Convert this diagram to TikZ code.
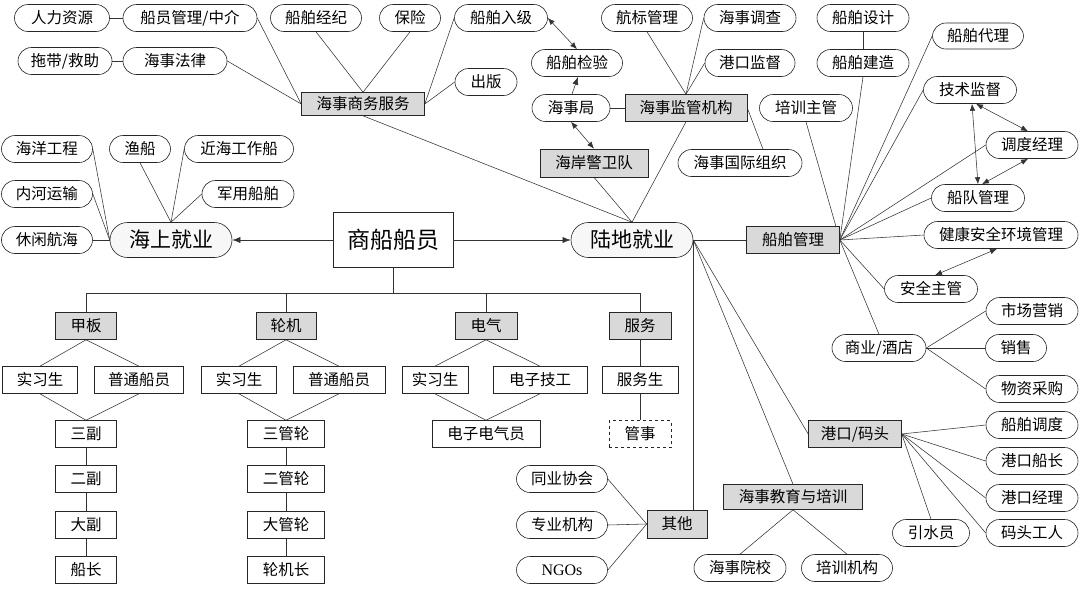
\documentclass[tikz,border=0pt]{standalone}
\usepackage{fontspec}
\setmainfont{Noto Sans CJK SC}
\newfontfamily\latinserif{Liberation Serif}
\usetikzlibrary{arrows.meta}
\pgfdeclarelayer{bg}
\pgfsetlayers{bg,main}
\begin{document}
\begin{tikzpicture}[x=1pt,y=-1pt,
  base/.style={font=\fontsize{15.5}{16}\selectfont, inner sep=0pt, minimum height=27pt, line width=0.6pt, draw=black!85},
  pill/.style={base, rounded corners=13.5pt, fill=white},
  gbox/.style={base, fill=gray!30},
  wbox/.style={base, fill=white},
  big/.style={draw=black!85, line width=0.6pt, rounded corners=17.5pt, minimum height=35pt, minimum width=122pt, fill=gray!6, font=\fontsize{21}{22}\selectfont, inner sep=0pt},
  edge/.style={line width=0.55pt, draw=black!80},
  sgl/.style={edge, -{Latex[length=8pt,width=6pt]}},
  dbl/.style={edge, {Latex[length=7pt,width=5.5pt]}-{Latex[length=7pt,width=5.5pt]}}
]
\useasboundingbox (0,0) rectangle (1080,590);

% ---- top left: maritime commercial services
\node[pill, minimum width=95pt] (hr) at (62,18) {人力资源};
\node[pill, minimum width=134pt] (crew) at (190,18) {船员管理/中介};
\node[pill, minimum width=91pt] (broker) at (316,18) {船舶经纪};
\node[pill, minimum width=61pt] (ins) at (410,18) {保险};
\node[pill, minimum width=93pt] (class) at (501,18) {船舶入级};
\node[pill, minimum width=62pt] (pub) at (486,82) {出版};
\node[pill, minimum width=94pt] (tow) at (65,61) {拖带/救助};
\node[pill, minimum width=104pt] (law) at (175,61) {海事法律};
\node[gbox, minimum width=123pt, minimum height=23pt] (comm) at (363,104) {海事商务服务};

% ---- top middle: regulators
\node[pill, minimum width=91pt] (aids) at (647,18) {航标管理};
\node[pill, minimum width=92pt] (inv) at (750,18) {海事调查};
\node[pill, minimum width=91pt] (survey) at (577,63) {船舶检验};
\node[pill, minimum width=90pt] (psc) at (750,63) {港口监督};
\node[pill, minimum width=78pt] (msa) at (571,108) {海事局};
\node[gbox, minimum width=122pt] (reg) at (686,108) {海事监管机构};
\node[gbox, minimum width=108pt, minimum height=28pt] (cg) at (594,163) {海岸警卫队};
\node[pill, minimum width=124pt] (imo) at (740,163) {海事国际组织};

% ---- top right: ship management
\node[pill, minimum width=93pt] (trainmgr) at (806,108) {培训主管};
\node[pill, minimum width=92pt] (design) at (863,18) {船舶设计};
\node[pill, minimum width=92pt] (build) at (863,63) {船舶建造};
\node[pill, minimum width=91pt, minimum height=26pt] (agent) at (978,36) {船舶代理};
\node[pill, minimum width=93pt] (tech) at (970,90) {技术监督};
\node[pill, minimum width=92pt] (disp) at (1032,145) {调度经理};
\node[pill, minimum width=93pt] (fleet) at (978,198) {船队管理};
\node[pill, minimum width=154pt] (hse) at (1001,235) {健康安全环境管理};
\node[pill, minimum width=93pt] (safety) at (931,289) {安全主管};
\node[gbox, minimum width=93pt] (shipmgmt) at (793,240) {船舶管理};

\node[pill, minimum width=92pt] (mkt) at (1032,311) {市场营销};
\node[pill, minimum width=61pt] (sales) at (1016,348) {销售};
\node[pill, minimum width=92pt] (purch) at (1032,389) {物资采购};
\node[pill, minimum width=94pt] (hotel) at (879,348) {商业/酒店};

\node[gbox, minimum width=93pt] (port) at (855,434) {港口/码头};
\node[pill, minimum width=92pt] (sched) at (1032,425) {船舶调度};
\node[pill, minimum width=92pt] (pcapt) at (1032,461) {港口船长};
\node[pill, minimum width=92pt] (pmgr) at (1032,498) {港口经理};
\node[pill, minimum width=92pt] (dock) at (1032,533) {码头工人};
\node[pill, minimum width=77pt] (pilot) at (931,533) {引水员};

\node[gbox, minimum width=139pt, minimum height=25pt] (edu) at (793,497) {海事教育与培训};
\node[pill, minimum width=92pt] (college) at (740,568) {海事院校};
\node[pill, minimum width=91pt] (tinst) at (847,568) {培训机构};

\node[gbox, minimum width=60pt, minimum height=28pt] (other) at (677,524) {其他};
\node[pill, minimum width=91pt] (assoc) at (562,479) {同业协会};
\node[pill, minimum width=91pt] (prof) at (562,525) {专业机构};
\node[pill, minimum width=91pt, font=\latinserif\fontsize{16}{16}\selectfont] (ngo) at (562,570) {NGOs};

% ---- left: sea employment
\node[pill, minimum width=91pt] (offeng) at (47,149) {海洋工程};
\node[pill, minimum width=61pt] (fish) at (140,149) {渔船};
\node[pill, minimum width=109pt] (offsup) at (239,149) {近海工作船};
\node[pill, minimum width=91pt] (inland) at (47,194) {内河运输};
\node[pill, minimum width=92pt] (navy) at (248,194) {军用船舶};
\node[pill, minimum width=91pt] (leisure) at (47,240) {休闲航海};
\node[big] (sea) at (171,240) {海上就业};
\node[draw=black!85, line width=0.6pt, fill=white, minimum width=120pt, minimum height=55pt, inner sep=0pt, font=\fontsize{23}{24}\selectfont] (main) at (393,240) {商船船员};
\node[big] (land) at (632,240) {陆地就业};

% ---- bottom: shipboard ranks
\node[gbox, minimum width=61pt] (deck) at (86,326) {甲板};
\node[gbox, minimum width=60pt] (eng) at (286,326) {轮机};
\node[gbox, minimum width=62pt] (elec) at (486,326) {电气};
\node[gbox, minimum width=62pt] (serv) at (640,326) {服务};
\node[wbox, minimum width=75pt] (dcadet) at (40,380) {实习生};
\node[wbox, minimum width=89pt] (drate) at (139,380) {普通船员};
\node[wbox, minimum width=75pt] (ecadet) at (239,380) {实习生};
\node[wbox, minimum width=92pt] (erate) at (339,380) {普通船员};
\node[wbox, minimum width=66pt] (elcadet) at (435,380) {实习生};
\node[wbox, minimum width=94pt] (eltech) at (540,380) {电子技工};
\node[wbox, minimum width=76pt] (steward) at (640,380) {服务生};
\node[wbox, minimum width=61pt] (o3) at (86,434) {三副};
\node[wbox, minimum width=61pt] (o2) at (86,479) {二副};
\node[wbox, minimum width=61pt] (o1) at (86,525) {大副};
\node[wbox, minimum width=61pt] (capt) at (86,570) {船长};
\node[wbox, minimum width=77pt] (e3) at (286,434) {三管轮};
\node[wbox, minimum width=77pt] (e2) at (286,479) {二管轮};
\node[wbox, minimum width=77pt] (e1) at (286,525) {大管轮};
\node[wbox, minimum width=77pt] (ce) at (286,570) {轮机长};
\node[wbox, minimum width=108pt] (eto) at (486,434) {电子电气员};
\node[wbox, minimum width=62pt, dashed] (purser) at (640,434) {管事};

\coordinate (bus) at (393,293);

\begin{pgfonlayer}{bg}
\fill[white] (0,0) rectangle (1080,590);
% commercial services
\draw[edge] (hr) -- (crew);
\draw[edge] (tow) -- (law);
\draw[edge] (crew.east) -- (comm.west);
\draw[edge] (law.east) -- (comm.west);
\draw[edge] (broker.south) -- (comm.north);
\draw[edge] (ins.south) -- (comm.north);
\draw[edge] (class.west) -- (comm.east);
\draw[edge] (pub.west) -- (comm.east);
\draw[edge] (comm.south) -- (land.north);
% regulators
\draw[edge] (aids.south) -- (reg.north);
\draw[edge] (inv.west) -- (reg.north);
\draw[edge] (psc.west) -- (reg.north);
\draw[edge] (msa.east) -- (reg.west);
\draw[edge] (reg.east) -- ([xshift=23pt]imo.north);
\draw[edge] (reg.south) -- (land.north);
\draw[edge] (cg.south) -- (land.north);
% land employment
\draw[edge] (land.east) -- (shipmgmt.west);
\draw[edge] (land.east) -- (land.east |- other.north);
\draw[edge] (land.east) -- (edu.north);
\draw[edge] (land.east) -- (port.west);
% ship management
\draw[edge] (design.south) -- (build.north);
\foreach \t in {trainmgr.south, build.south, agent.west, tech.west, disp.west, fleet.west, hse.west, safety.west, hotel.north}
  \draw[edge] (shipmgmt.east) -- (\t);
\foreach \t in {mkt, sales, purch}
  \draw[edge] (hotel.east) -- (\t.west);
\foreach \t in {sched.west, pcapt.west, pmgr.west, dock.west, pilot.north}
  \draw[edge] (port.east) -- (\t);
\draw[edge] (edu.south) -- (college.north);
\draw[edge] (edu.south) -- (tinst.north);
\foreach \t in {assoc, prof, ngo}
  \draw[edge] (other.west) -- (\t.east);
% sea employment
\draw[edge] (offeng.east) -- (sea.west);
\draw[edge] (inland.east) -- (sea.west);
\draw[edge] (leisure.east) -- (sea.west);
\draw[edge] (fish.south) -- (sea.north);
\draw[edge] (offsup.west) -- (sea.north);
\draw[edge] (navy.west) -- (sea.north);
% ranks
\draw[edge] (main.south) -- (bus);
\draw[edge] (deck.north |- bus) -- (serv.north |- bus);
\foreach \t in {deck, eng, elec, serv}
  \draw[edge] (\t.north |- bus) -- (\t.north);
\draw[edge] (deck.south) -- (dcadet.north);
\draw[edge] (deck.south) -- (drate.north);
\draw[edge] (dcadet.south) -- (o3.north);
\draw[edge] (drate.south) -- (o3.north);
\draw[edge] (o3) -- (o2) -- (o1) -- (capt);
\draw[edge] (eng.south) -- (ecadet.north);
\draw[edge] (eng.south) -- (erate.north);
\draw[edge] (ecadet.south) -- (e3.north);
\draw[edge] (erate.south) -- (e3.north);
\draw[edge] (e3) -- (e2) -- (e1) -- (ce);
\draw[edge] (elec.south) -- (elcadet.north);
\draw[edge] (elec.south) -- (eltech.north);
\draw[edge] (elcadet.south) -- (eto.north);
\draw[edge] (eltech.south) -- (eto.north);
\draw[edge] (serv) -- (steward) -- (purser);
\end{pgfonlayer}

% arrows
\draw[sgl] (main.west) -- (sea.east);
\draw[sgl] (main.east) -- (land.west);
\draw[sgl] ([xshift=1pt]msa.north) -- ([xshift=1pt]survey.south);
\draw[dbl] (survey.north) -- (class.east);
\draw[dbl] (msa.south) -- (cg.north);
\draw[dbl] ([xshift=6pt]tech.south) -- ([xshift=-4pt]disp.north);
\draw[dbl] ([xshift=2pt]tech.south) -- (fleet.north);
\draw[dbl] ([xshift=-4pt]disp.south) -- ([xshift=4pt]fleet.north);
\draw[dbl] ([xshift=-4pt]hse.south) -- ([xshift=4pt]safety.north);
\end{tikzpicture}
\end{document}
